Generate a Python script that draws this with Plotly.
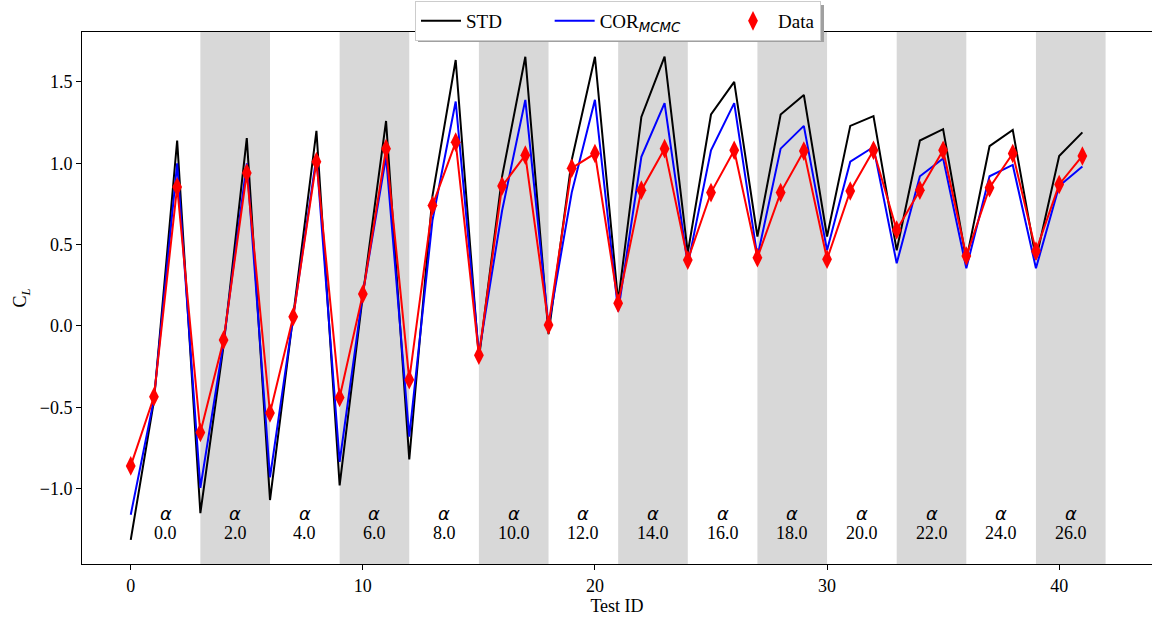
import plotly.graph_objects as go

# Lift coefficient per test run
test_id = list(range(42))
cl_std = [-1.315, -0.46, 1.14, -1.15, -0.12, 1.155, -1.07, 0.05, 1.2, -0.98,
          0.19, 1.26, -0.82, 0.8, 1.635, -0.2, 0.92, 1.655, -0.05, 1.02,
          1.655, 0.15, 1.285, 1.655, 0.45, 1.30, 1.50, 0.55, 1.30, 1.42,
          0.55, 1.23, 1.29, 0.465, 1.14, 1.21, 0.405, 1.105, 1.205, 0.41,
          1.045, 1.19]
cl_cor = [-1.16, -0.45, 1.0, -0.995, -0.1, 1.0, -0.93, 0.05, 1.04, -0.835,
          0.2, 1.04, -0.68, 0.65, 1.38, -0.17, 0.71, 1.39, 0.0, 0.82,
          1.39, 0.09, 1.04, 1.37, 0.375, 1.08, 1.37, 0.425, 1.09, 1.23,
          0.465, 1.01, 1.10, 0.385, 0.92, 1.03, 0.355, 0.92, 0.99, 0.355,
          0.86, 0.98]
cl_data = [-0.86, -0.435, 0.855, -0.655, -0.086, 0.94, -0.535, 0.057, 1.01, -0.44,
           0.197, 1.09, -0.33, 0.74, 1.13, -0.18, 0.86, 1.05, 0.006, 0.97,
           1.06, 0.14, 0.835, 1.09, 0.405, 0.82, 1.08, 0.42, 0.82, 1.075,
           0.41, 0.83, 1.08, 0.59, 0.835, 1.08, 0.43, 0.85, 1.06, 0.46,
           0.87, 1.045]

# Angle of attack groups: three tests per alpha
alpha_values = [0.0, 2.0, 4.0, 6.0, 8.0, 10.0, 12.0, 14.0, 16.0, 18.0,
                20.0, 22.0, 24.0, 26.0]
tests_per_alpha = 3

SERIF = "Liberation Serif"
FS = 18
PAD = "\u00a0" * 9  # spacing between legend entries

fig = go.Figure()

fig.add_trace(go.Scatter(x=test_id, y=cl_std, mode="lines", name="STD" + PAD,
                         line=dict(color="black", width=2)))
fig.add_trace(go.Scatter(x=test_id, y=cl_cor, mode="lines",
                         name="COR<sub><span style='font-family:DejaVu Sans;font-style:italic'>MCMC</span></sub>" + PAD,
                         line=dict(color="blue", width=2)))
fig.add_trace(go.Scatter(x=test_id, y=cl_data, mode="lines", showlegend=False,
                         line=dict(color="red", width=2)))
fig.add_trace(go.Scatter(x=test_id, y=cl_data, mode="markers", name="Data",
                         marker=dict(color="red", symbol="diamond-tall", size=14,
                                     line=dict(width=0))))

# Shaded bands for every other alpha group, with alpha labels
shapes = []
annotations = []
for k, a in enumerate(alpha_values):
    x0 = k * tests_per_alpha
    x1 = x0 + tests_per_alpha
    if k % 2 == 1:
        shapes.append(dict(type="rect", xref="x", yref="paper", x0=x0, x1=x1,
                           y0=0, y1=1, fillcolor="#d8d8d8", line=dict(width=0),
                           layer="below"))
    xc = x0 + tests_per_alpha / 2
    annotations.append(dict(x=xc, y=-1.15, xref="x", yref="y", text="<i>α</i>",
                            showarrow=False,
                            font=dict(family="DejaVu Sans", size=18, color="black")))
    annotations.append(dict(x=xc, y=-1.275, xref="x", yref="y", text=f"{a:.1f}",
                            showarrow=False,
                            font=dict(family=SERIF, size=FS, color="black")))

# Legend drop shadow (pixel box converted to paper coordinates)
def px_x(p):
    return (p - 82) / 1070


def px_y(p):
    return 1 - (p - 32) / 532


shapes.append(dict(type="rect", xref="paper", yref="paper",
                   x0=px_x(418), x1=px_x(824), y0=px_y(42), y1=px_y(5),
                   fillcolor="#a0a0a0", line=dict(width=0), layer="above"))

fig.update_layout(
    width=1152, height=619,
    margin=dict(l=82, r=0, t=32, b=55),
    paper_bgcolor="white", plot_bgcolor="white",
    font=dict(family=SERIF, size=FS, color="black"),
    shapes=shapes, annotations=annotations,
    legend=dict(orientation="h", x=px_x(415), xanchor="left",
                y=px_y(1), yanchor="top",
                bgcolor="white", bordercolor="#cccccc", borderwidth=1,
                font=dict(family=SERIF, size=19),
                itemwidth=40, traceorder="normal"),
    xaxis=dict(range=[-2.1, 44.0], tickvals=[0, 10, 20, 30, 40],
               showline=True, linecolor="black", linewidth=1, mirror=True,
               ticks="outside", ticklen=5, tickcolor="black", showgrid=False,
               zeroline=False, tickfont=dict(family=SERIF, size=FS),
               title=dict(text="Test ID", font=dict(family=SERIF, size=FS),
                          standoff=4)),
    yaxis=dict(range=[-1.463, 1.807], tickvals=[-1.0, -0.5, 0.0, 0.5, 1.0, 1.5],
               ticktext=["−1.0", "−0.5", "0.0", "0.5", "1.0", "1.5"],
               showline=True, linecolor="black", linewidth=1, mirror=True,
               ticks="outside", ticklen=5, tickcolor="black", showgrid=False,
               zeroline=False, tickfont=dict(family=SERIF, size=FS),
               title=dict(text="C<sub><i>L</i></sub>", font=dict(family=SERIF, size=FS),
                          standoff=8)),
)

fig.write_html("out.html")
